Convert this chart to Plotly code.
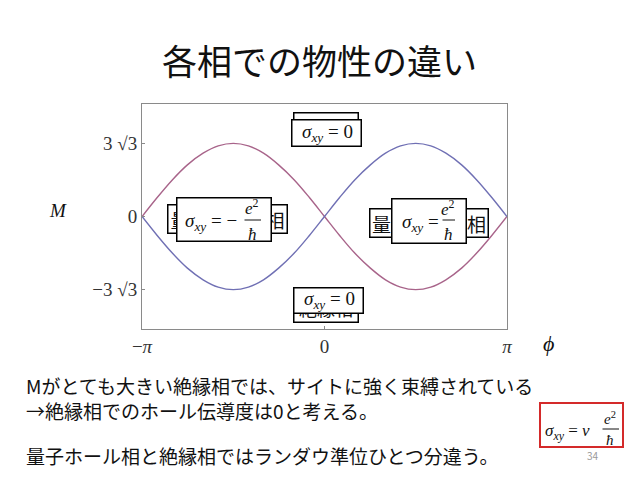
import plotly.graph_objects as go

# ---- data ----
phi = [-3.14, -2.88, -2.62, -2.36, -2.09, -1.83, -1.57, -1.31, -1.05, -0.79, -0.52, -0.26,
       0.0, 0.26, 0.52, 0.79, 1.05, 1.31, 1.57, 1.83, 2.09, 2.36, 2.62, 2.88, 3.14]
m_red = [0.0, 1.35, 2.60, 3.67, 4.50, 5.02, 5.20, 5.02, 4.50, 3.67, 2.60, 1.35,
         0.0, -1.35, -2.60, -3.67, -4.50, -5.02, -5.20, -5.02, -4.50, -3.67, -2.60, -1.35, 0.0]
m_blue = [0.0, -1.35, -2.60, -3.67, -4.50, -5.02, -5.20, -5.02, -4.50, -3.67, -2.60, -1.35,
          0.0, 1.35, 2.60, 3.67, 4.50, 5.02, 5.20, 5.02, 4.50, 3.67, 2.60, 1.35, 0.0]
x_tick_vals = [-3.14159, 0.0, 3.14159]
x_tick_text = ["−<i>π</i>", "0", "<i>π</i>"]
y_tick_vals = [5.196, 0.0, -5.196]
y_tick_text = ["3 √3", "0", "−3 √3"]

title_text = "各相での物性の違い"
body_lines = ["Mがとても大きい絶縁相では、サイトに強く束縛されている",
              "→絶縁相でのホール伝導度は0と考える。",
              "量子ホール相と絶縁相ではランダウ準位ひとつ分違う。"]

OFF = 8  # page body margin
W, H = 638 - OFF, 479 - OFF
L, R, T, B = 142, 507, 104, 329   # plot area in screen pixels
JP = "Noto Sans CJK JP"
SERIF = "Liberation Serif"


def px(x):
    return (x - L) / (R - L)


def py(y):
    return (B - y) / (B - T)


fig = go.Figure()
fig.add_trace(go.Scatter(x=phi, y=m_red, mode="lines", line=dict(color="#a8648a", width=1.4, shape="spline"),
                         showlegend=False, hoverinfo="skip"))
fig.add_trace(go.Scatter(x=phi, y=m_blue, mode="lines", line=dict(color="#7070b4", width=1.4, shape="spline"),
                         showlegend=False, hoverinfo="skip"))

ann = []


def text(x, y, s, size, font=SERIF, color="#111", xanchor="center"):
    ann.append(dict(x=px(x), y=py(y), xref="paper", yref="paper", text=s, showarrow=False,
                    xanchor=xanchor, yanchor="middle", font=dict(family=font, size=size, color=color)))


def box(x0, y0, x1, y1, s="", size=18, bw=1.5, color="black", font=JP):
    ann.append(dict(x=px((x0 + x1) / 2), y=py((y0 + y1) / 2), xref="paper", yref="paper",
                    text=s if s else " ", showarrow=False, xanchor="center", yanchor="middle",
                    width=x1 - x0 - 2 * bw, height=y1 - y0 - 2 * bw, borderpad=0,
                    bgcolor="white", bordercolor=color, borderwidth=bw,
                    font=dict(family=font, size=size, color="#111")))


def hline(x0, x1, y):
    ann.append(dict(x=px(x1), y=py(y), xref="paper", yref="paper", text="", showarrow=True,
                    arrowhead=0, arrowwidth=1, arrowcolor="#111", ax=-(x1 - x0), ay=0,
                    axref="pixel", ayref="pixel", standoff=0, startstandoff=0))


SIG = "<i>σ<sub>xy</sub></i>"

# top boxes
box(293, 112, 359, 142, "絶縁相")
box(291, 119, 362, 147)
text(327, 133, SIG + " = 0", 19)
# bottom boxes
box(293, 293, 359, 323, "絶縁相")
box(293, 287, 364, 314)
text(329, 300, SIG + " = 0", 19)
# left boxes
box(167, 204, 288, 234, "量子ホール相", size=19)
box(176, 197, 272, 242)
text(211, 222, SIG + " = −", 19)
text(252, 207, "<i>e</i><sup>2</sup>", 17)
hline(243, 261, 220)
text(252, 234, "<i>ħ</i>", 17)
# right boxes
box(369, 208, 489, 238, "量子ホール相", size=19)
box(391, 198, 467, 244)
text(420, 223, SIG + " =", 19)
text(448, 208, "<i>e</i><sup>2</sup>", 17)
hline(441, 455, 220)
text(448, 234, "<i>ħ</i>", 17)

# axis labels
text(58, 210, "<i>M</i>", 19)
text(548, 343, "<i>ϕ</i>", 22)

# title and body
text(319, 59, title_text, 35, font=JP, color="#111")
text(24, 385, body_lines[0], 19, font=JP, xanchor="left")
text(24, 410, body_lines[1], 19, font=JP, xanchor="left")
text(24, 455, body_lines[2], 19, font=JP, xanchor="left")

# red formula box
box(539, 402, 624, 448, bw=2, color="#d42a2a")
text(567, 432, SIG + " = <i>ν</i>", 17)
text(610, 418, "<i>e</i><sup>2</sup>", 15)
hline(601, 619, 429)
text(610, 440, "<i>ħ</i>", 15)
# page number
text(593, 456, "34", 10, font=JP, color="#999")

fig.update_layout(
    width=W, height=H, autosize=False,
    margin=dict(l=L - OFF, r=W - (R - OFF), t=T - OFF, b=H - (B - OFF), pad=0),
    paper_bgcolor="white", plot_bgcolor="white",
    annotations=ann,
)
fig.update_xaxes(range=[-3.14159, 3.14159], tickvals=x_tick_vals, ticktext=x_tick_text,
                 showgrid=False, zeroline=False, showline=True, linecolor="#8a8a8a", linewidth=1,
                 mirror=True, ticks="inside", ticklen=3, tickcolor="#8a8a8a",
                 tickfont=dict(family=SERIF, size=19, color="#333"))
fig.update_yaxes(range=[-8, 8], tickvals=y_tick_vals, ticktext=y_tick_text,
                 showgrid=False, zeroline=False, showline=True, linecolor="#8a8a8a", linewidth=1,
                 mirror=True, ticks="inside", ticklen=3, tickcolor="#8a8a8a",
                 tickfont=dict(family=SERIF, size=19, color="#333"))

fig.write_html("out.html")
